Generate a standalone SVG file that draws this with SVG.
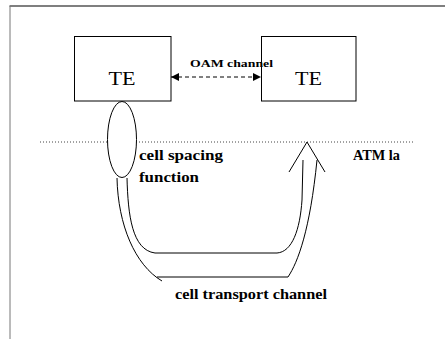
<svg xmlns="http://www.w3.org/2000/svg" width="445" height="339" viewBox="0 0 445 339">
<defs>
<style>
.box{fill:#fff;stroke:#000;stroke-width:1}
.ln{fill:none;stroke:#000;stroke-width:1}
.t{font-family:"Liberation Serif","Times New Roman",serif;fill:#000}
</style>
<marker id="ah" viewBox="0 0 10 10" refX="10" refY="5" markerWidth="9" markerHeight="8" markerUnits="userSpaceOnUse" orient="auto-start-reverse">
<path d="M0,0 L10,5 L0,10 z" fill="#000"/>
</marker>
</defs>
<rect width="445" height="339" fill="#fff"/>
<g id="frame">
<line x1="9.5" y1="6" x2="445" y2="6" stroke="#555" stroke-width="1.5"/>
<line x1="10" y1="6" x2="10" y2="339" stroke="#777" stroke-width="1"/>
</g>
<g id="layer">
<line x1="40" y1="142" x2="415" y2="142" stroke="#444" stroke-width="1" stroke-dasharray="1 2"/>
<text class="t" x="353" y="160" font-size="14" font-weight="bold" textLength="47" lengthAdjust="spacingAndGlyphs">ATM la</text>
</g>
<g id="te1">
<rect class="box" x="74.5" y="36.5" width="96.5" height="64.5"/>
<text class="t" x="122" y="85" font-size="19" text-anchor="middle" textLength="27" lengthAdjust="spacingAndGlyphs">TE</text>
</g>
<g id="te2">
<rect class="box" x="261.5" y="36.5" width="94.5" height="64.5"/>
<text class="t" x="308.5" y="85" font-size="19" text-anchor="middle" textLength="27" lengthAdjust="spacingAndGlyphs">TE</text>
</g>
<g id="connectors">
<line class="ln" x1="171" y1="77" x2="261" y2="77" stroke-dasharray="4 3" marker-start="url(#ah)" marker-end="url(#ah)"/>
<text class="t" x="190" y="67" font-size="11" font-weight="bold" textLength="83" lengthAdjust="spacingAndGlyphs">OAM channel</text>
<path class="ln" d="M127,178 C128,215 132,250 155,253 L277,253 C292,252 300,230 302,200 L303,160"/>
<path class="ln" d="M117,178 C118,225 135,265 162,281 M157,277 L288,277 C298,262 310,230 317,160"/>
<path class="ln" d="M289,172 L307,142 L325,172"/>
<text class="t" x="175" y="299" font-size="15" font-weight="bold" textLength="152" lengthAdjust="spacingAndGlyphs">cell transport channel</text>
</g>
<g id="cellspacing">
<ellipse class="box" cx="122" cy="139.5" rx="14.5" ry="38"/>
<text class="t" x="139" y="160" font-size="15" font-weight="bold" textLength="84" lengthAdjust="spacingAndGlyphs">cell spacing</text>
<text class="t" x="139" y="182" font-size="15" font-weight="bold" textLength="60" lengthAdjust="spacingAndGlyphs">function</text>
</g>
</svg>
